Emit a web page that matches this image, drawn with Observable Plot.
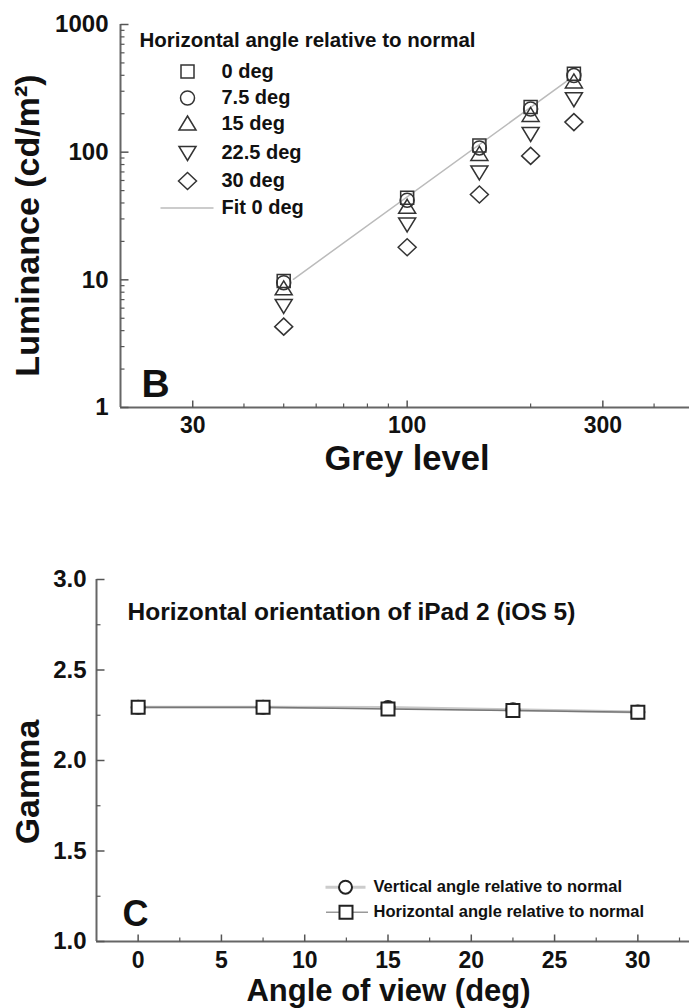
<!DOCTYPE html>
<html>
<head>
<meta charset="utf-8">
<script src="https://cdn.jsdelivr.net/npm/d3@7"></script>
<script src="https://cdn.jsdelivr.net/npm/@observablehq/plot@0.6"></script>
<style>
html, body { margin: 0; padding: 0; background: #fff; overflow: hidden; }
#top svg, #bottom svg { display: block; }
</style>
</head>
<body>
<div id="top"></div>
<div id="bottom"></div>
<script>
// ---------- Panel B data ----------
const greyLevels = [50, 100, 150, 200, 255];
const angleLabels = ["0 deg", "7.5 deg", "15 deg", "22.5 deg", "30 deg"];
const lum0   = [9.8, 44, 113, 226, 412];
const lum7_5 = [9.5, 42, 108, 218, 398];
const lum15  = [8.5, 37, 96, 194, 355];
const lum22_5 = [6.3, 27.4, 70, 140, 262];
const lum30  = [4.3, 18, 46.6, 93.5, 172];
const fitGrey = [52.8, 246];
const fitLum = [10.1, 363];
const fitLabel = "Fit 0 deg";
const legendTitleB = "Horizontal angle relative to normal";
const lumTicksMajor = [1, 10, 100, 1000];
const lumTicksMinor = [2, 3, 4, 5, 6, 7, 8, 9, 20, 30, 40, 50, 60, 70, 80, 90, 200, 300, 400, 500, 600, 700, 800, 900];
const greyTicksMajor = [30, 100, 300];
const greyTicksMinor = [40, 50, 60, 70, 80, 90, 200, 400];

// ---------- Panel C data ----------
const viewAngles = [0, 7.5, 15, 22.5, 30];
const gammaVertical = [2.294, 2.294, 2.293, 2.280, 2.268];
const gammaHorizontal = [2.294, 2.294, 2.284, 2.276, 2.266];
const legendC = ["Vertical angle relative to normal", "Horizontal angle relative to normal"];
const titleC = "Horizontal orientation of iPad 2 (iOS 5)";
const gammaTicksMajor = [1.0, 1.5, 2.0, 2.5, 3.0];
const gammaTicksMinor = [1.25, 1.75, 2.25, 2.75];
const angleTicksMajor = [0, 5, 10, 15, 20, 25, 30];
const angleTicksMinor = [2.5, 7.5, 12.5, 17.5, 22.5, 27.5, 32.5];

// ---------- styling ----------
const font = "'Liberation Sans', Arial, Helvetica, sans-serif";
const axisColor = "#666";
const tickColor = "#555";
const markColor = "#333";

const symSquare = {draw(c) { c.rect(-6.5, -6.5, 13, 13); }};
const symCircle = {draw(c) { c.moveTo(7, 0); c.arc(0, 0, 7, 0, 2 * Math.PI); c.closePath(); }};
const symTriUp = {draw(c) { c.moveTo(0, -8); c.lineTo(8.5, 6); c.lineTo(-8.5, 6); c.closePath(); }};
const symTriDown = {draw(c) { c.moveTo(0, 8); c.lineTo(8.5, -6); c.lineTo(-8.5, -6); c.closePath(); }};
const symDiamond = {draw(c) { c.moveTo(0, -8.5); c.lineTo(9, 0); c.lineTo(0, 8.5); c.lineTo(-9, 0); c.closePath(); }};
const symSquareC = {draw(c) { c.rect(-6.5, -6.5, 13, 13); }};
const symCircleC = {draw(c) { c.moveTo(6.5, 0); c.arc(0, 0, 6.5, 0, 2 * Math.PI); c.closePath(); }};
const tickRight = len => ({draw(c) { c.moveTo(0, 0); c.lineTo(len, 0); }});
const tickUp = len => ({draw(c) { c.moveTo(0, 0); c.lineTo(0, -len); }});
const hSeg = (a, b) => ({draw(c) { c.moveTo(a, 0); c.lineTo(b, 0); }});

const seriesB = [lum0, lum7_5, lum15, lum22_5, lum30];
const symbolsB = [symSquare, symCircle, symTriUp, symTriDown, symDiamond];
const legendRowsB = [47, 73.5, 99.5, 128, 156.5];

const bMarks = [
  Plot.ruleX([20], {stroke: axisColor, strokeWidth: 2}),
  Plot.ruleY([1], {stroke: axisColor, strokeWidth: 2}),
  Plot.dot(lumTicksMajor, {y: d => d, frameAnchor: "left", symbol: tickRight(8), stroke: tickColor, strokeWidth: 1.5, fill: "none"}),
  Plot.dot(lumTicksMinor, {y: d => d, frameAnchor: "left", symbol: tickRight(4), stroke: tickColor, strokeWidth: 1.2, fill: "none"}),
  Plot.dot(greyTicksMajor, {x: d => d, frameAnchor: "bottom", symbol: tickUp(7), stroke: tickColor, strokeWidth: 1.5, fill: "none"}),
  Plot.dot(greyTicksMinor, {x: d => d, frameAnchor: "bottom", symbol: tickUp(4), stroke: tickColor, strokeWidth: 1.2, fill: "none"}),
  Plot.text(lumTicksMajor, {y: d => d, frameAnchor: "left", dx: -12, textAnchor: "end", lineAnchor: "middle", text: d => String(d), fontSize: 24, fontWeight: "bold", fill: "#111"}),
  Plot.text(greyTicksMajor, {x: d => d, frameAnchor: "bottom", dy: 18.5, textAnchor: "middle", lineAnchor: "middle", text: d => String(d), fontSize: 23, fontWeight: "bold", fill: "#111"}),
  Plot.text(["Luminance (cd/m²)"], {frameAnchor: "left", dx: -92.5, dy: 9.5, rotate: -90, textAnchor: "middle", lineAnchor: "middle", text: d => d, fontSize: 34, fontWeight: "bold", fill: "#111"}),
  Plot.text(["Grey level"], {frameAnchor: "bottom", dx: 2, dy: 51, textAnchor: "middle", lineAnchor: "middle", text: d => d, fontSize: 34.5, fontWeight: "bold", fill: "#111"}),
  Plot.text(["B"], {frameAnchor: "bottom-left", dx: 21, dy: -23, textAnchor: "start", lineAnchor: "middle", text: d => d, fontSize: 39, fontWeight: "bold", fill: "#111"}),
  Plot.line(fitGrey.map((g, i) => ({g, l: fitLum[i]})), {x: "g", y: "l", stroke: "#bbb", strokeWidth: 1.5}),
  ...seriesB.map((s, k) => Plot.dot(greyLevels, {x: d => d, y: (d, i) => s[i], symbol: symbolsB[k], stroke: markColor, strokeWidth: 1.5, fill: "none"})),
  Plot.text([legendTitleB], {frameAnchor: "top-left", dx: 19, dy: 15.5, textAnchor: "start", lineAnchor: "middle", text: d => d, fontSize: 20.5, fontWeight: "bold", fill: "#111"}),
  ...symbolsB.map((sym, k) => Plot.dot([angleLabels[k]], {frameAnchor: "top-left", dx: 67, dy: legendRowsB[k], symbol: sym, stroke: markColor, strokeWidth: 1.5, fill: "none"})),
  ...angleLabels.map((lab, k) => Plot.text([lab], {frameAnchor: "top-left", dx: 101, dy: legendRowsB[k], textAnchor: "start", lineAnchor: "middle", text: d => d, fontSize: 20, fontWeight: "bold", fill: "#111"})),
  Plot.dot([fitLabel], {frameAnchor: "top-left", dx: 66.5, dy: 183.5, symbol: hSeg(-26.5, 26.5), stroke: "#bbb", strokeWidth: 1.5, fill: "none"}),
  Plot.text([fitLabel], {frameAnchor: "top-left", dx: 101, dy: 183.5, textAnchor: "start", lineAnchor: "middle", text: d => d, fontSize: 20, fontWeight: "bold", fill: "#111"})
];

const plotB = Plot.plot({
  width: 689, height: 480,
  marginTop: 24, marginBottom: 73, marginLeft: 120, marginRight: 0,
  style: {fontFamily: font, background: "#fff", overflow: "visible"},
  x: {type: "log", domain: [20, 488], axis: null},
  y: {type: "log", domain: [1, 1000], axis: null},
  marks: bMarks
});
document.getElementById("top").appendChild(plotB);

const cMarks = [
  Plot.ruleX([-2.5], {stroke: axisColor, strokeWidth: 2}),
  Plot.ruleY([1], {stroke: axisColor, strokeWidth: 2}),
  Plot.dot(gammaTicksMajor, {y: d => d, frameAnchor: "left", symbol: tickRight(8), stroke: tickColor, strokeWidth: 1.5, fill: "none"}),
  Plot.dot(gammaTicksMinor, {y: d => d, frameAnchor: "left", symbol: tickRight(4), stroke: tickColor, strokeWidth: 1.2, fill: "none"}),
  Plot.dot(angleTicksMajor, {x: d => d, frameAnchor: "bottom", symbol: tickUp(7), stroke: tickColor, strokeWidth: 1.5, fill: "none"}),
  Plot.dot(angleTicksMinor, {x: d => d, frameAnchor: "bottom", symbol: tickUp(4), stroke: tickColor, strokeWidth: 1.2, fill: "none"}),
  Plot.text(gammaTicksMajor, {y: d => d, frameAnchor: "left", dx: -10, textAnchor: "end", lineAnchor: "middle", text: d => d.toFixed(1), fontSize: 24, fontWeight: "bold", fill: "#111"}),
  Plot.text(angleTicksMajor, {x: d => d, frameAnchor: "bottom", dy: 19, textAnchor: "middle", lineAnchor: "middle", text: d => String(d), fontSize: 23, fontWeight: "bold", fill: "#111"}),
  Plot.text(["Gamma"], {frameAnchor: "left", dx: -68.5, dy: 21.5, rotate: -90, textAnchor: "middle", lineAnchor: "middle", text: d => d, fontSize: 34, fontWeight: "bold", fill: "#111"}),
  Plot.text(["Angle of view (deg)"], {frameAnchor: "bottom", dx: -4.5, dy: 49.5, textAnchor: "middle", lineAnchor: "middle", text: d => d, fontSize: 31, fontWeight: "bold", fill: "#111"}),
  Plot.text(["C"], {frameAnchor: "bottom-left", dx: 26, dy: -27, textAnchor: "start", lineAnchor: "middle", text: d => d, fontSize: 36, fontWeight: "bold", fill: "#111"}),
  Plot.text([titleC], {frameAnchor: "top-left", dx: 31, dy: 32.5, textAnchor: "start", lineAnchor: "middle", text: d => d, fontSize: 24.5, fontWeight: "bold", fill: "#111"}),
  Plot.line(viewAngles, {x: d => d, y: (d, i) => gammaVertical[i], stroke: "#c8c8c8", strokeWidth: 3}),
  Plot.line(viewAngles, {x: d => d, y: (d, i) => gammaHorizontal[i], stroke: "#777", strokeWidth: 1.5}),
  Plot.dot(viewAngles, {x: d => d, y: (d, i) => gammaVertical[i], symbol: symCircleC, stroke: "#222", strokeWidth: 2, fill: "#fff"}),
  Plot.dot(viewAngles, {x: d => d, y: (d, i) => gammaHorizontal[i], symbol: symSquareC, stroke: "#222", strokeWidth: 2, fill: "#fff"}),
  // legend
  Plot.dot([legendC[0]], {frameAnchor: "top-left", dx: 249, dy: 307.7, symbol: hSeg(-20, 20), stroke: "#ccc", strokeWidth: 3, fill: "none"}),
  Plot.dot([legendC[0]], {frameAnchor: "top-left", dx: 249, dy: 307.7, symbol: symCircleC, stroke: "#222", strokeWidth: 2, fill: "#fff"}),
  Plot.dot([legendC[1]], {frameAnchor: "top-left", dx: 249.5, dy: 332.7, symbol: hSeg(-20, 22), stroke: "#999", strokeWidth: 1.5, fill: "none"}),
  Plot.dot([legendC[1]], {frameAnchor: "top-left", dx: 249.5, dy: 332.7, symbol: symSquareC, stroke: "#222", strokeWidth: 2, fill: "#fff"}),
  ...legendC.map((lab, k) => Plot.text([lab], {frameAnchor: "top-left", dx: 277, dy: 307.7 + 25 * k, textAnchor: "start", lineAnchor: "middle", text: d => d, fontSize: 16.5, fontWeight: "bold", fill: "#111"}))
];

const plotC = Plot.plot({
  width: 689, height: 528,
  marginTop: 99, marginBottom: 67, marginLeft: 96, marginRight: 0,
  style: {fontFamily: font, background: "#fff", overflow: "visible"},
  x: {domain: [-2.5, 33.1], axis: null},
  y: {domain: [1, 3], axis: null},
  marks: cMarks
});
document.getElementById("bottom").appendChild(plotC);
</script>
</body>
</html>
